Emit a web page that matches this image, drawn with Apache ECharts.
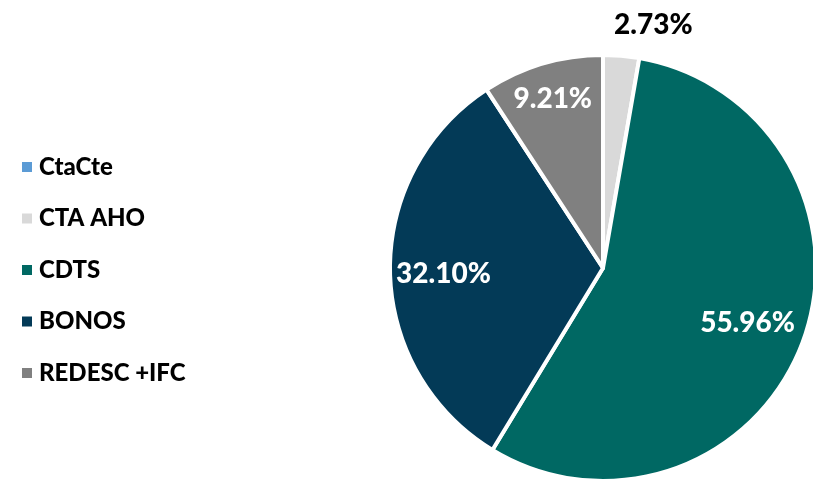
<!DOCTYPE html>
<html><head><meta charset="utf-8">
<script src="https://cdn.jsdelivr.net/npm/echarts@6/dist/echarts.min.js"></script>
<style>html,body{margin:0;padding:0;background:#fff}#c{width:813px;height:480px}</style>
</head><body><div id="c"></div>
<script>
var categories = ['CtaCte', 'CTA AHO', 'CDTS', 'BONOS', 'REDESC +IFC'];
var values = [0, 2.73, 55.96, 32.10, 9.21];
var colors = ['#5B9BD5', '#D9D9D9', '#006863', '#033A57', '#808080'];
var labelShift = [[0,0],[41,-134],[42,17],[-50,4],[-19,-64]];

var chart = echarts.init(document.getElementById('c'));
var font = 'Lato, "Open Sans", sans-serif';
chart.setOption({
  animation: false,
  legend: {
    orient: 'vertical', left: 17, top: 150,
    itemWidth: 10, itemHeight: 10, itemGap: 27.5,
    icon: 'rect',
    itemStyle: { borderWidth: 0 },
    data: categories,
    textStyle: { fontFamily: font, fontWeight: 900, fontSize: 24, color: '#000', padding: [0, 0, 0, 2] }
  },
  series: [{
    type: 'pie',
    center: [603, 268], radius: [0, 213],
    startAngle: 90, clockwise: true,
    avoidLabelOverlap: false,
    itemStyle: { borderColor: '#fff', borderWidth: 4 },
    label: {
      show: true, position: 'inside',
      fontFamily: font, fontWeight: 900, fontSize: 28, color: '#fff',
      formatter: function (p) { return p.value.toFixed(2) + '%'; }
    },
    labelLayout: function (p) {
      var s = labelShift[p.dataIndex];
      return { dx: s[0], dy: s[1] };
    },
    data: categories.map(function (c, i) {
      var d = { name: c, value: values[i], itemStyle: { color: colors[i] } };
      if (values[i] === 0) d.label = { show: false };
      if (i === 1) d.label = { color: '#000' };
      return d;
    })
  }]
});
</script></body></html>
